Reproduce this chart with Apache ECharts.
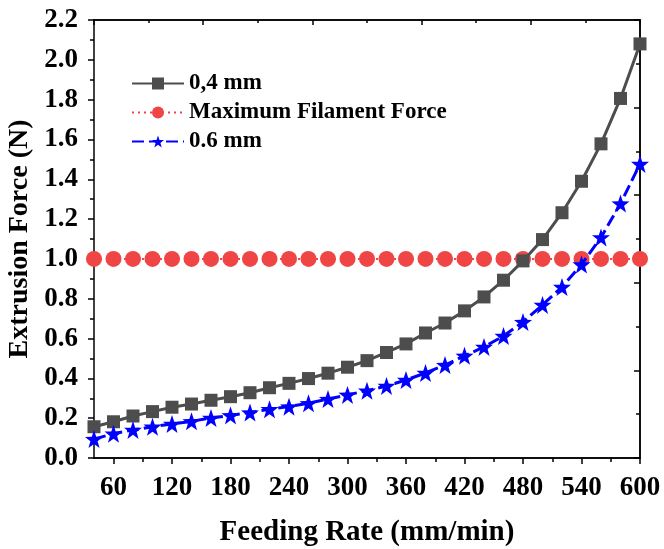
<!DOCTYPE html>
<html>
<head>
<meta charset="utf-8">
<script src="https://cdn.jsdelivr.net/npm/echarts@6/dist/echarts.min.js"></script>
</head>
<body style="margin:0">
<div id="main" style="width:664px;height:549px"></div>
<script>
// feeding rate (mm/min)
var feedRate = [40, 60, 80, 100, 120, 140, 160, 180, 200, 220, 240, 260, 280, 300, 320,
  340, 360, 380, 400, 420, 440, 460, 480, 500, 520, 540, 560, 580, 600];
var force04 = [0.157, 0.182, 0.211, 0.233, 0.255, 0.271, 0.290, 0.308, 0.328, 0.353, 0.375, 0.399, 0.426, 0.456, 0.489,
  0.530, 0.573, 0.628, 0.678, 0.739, 0.809, 0.893, 0.99, 1.097, 1.232, 1.39, 1.578, 1.806, 2.08];
var force06 = [0.095, 0.122, 0.141, 0.157, 0.171, 0.184, 0.201, 0.214, 0.228, 0.245, 0.258, 0.275, 0.296, 0.317, 0.338,
  0.362, 0.392, 0.427, 0.467, 0.513, 0.558, 0.613, 0.683, 0.769, 0.859, 0.972, 1.108, 1.278, 1.477];
var maxForce = feedRate.map(function () { return 1.0; });

var xLabelTicks = [60, 120, 180, 240, 300, 360, 420, 480, 540, 600];
var xMinorTicks = [90, 150, 210, 270, 330, 390, 450, 510, 570];
var topMajor = [40, 152, 264, 376, 488, 600];
var topMinor = [96, 208, 320, 432, 544];
var rightMajor = [0, 0.44, 0.88, 1.32, 1.76, 2.2];
var rightMinor = [0.22, 0.66, 1.1, 1.54, 1.98];

var font = 'Liberation Serif';
var black = '#000';

function pair(xs, ys) {
  return xs.map(function (x, i) { return [x, ys[i]]; });
}

// extra axes that only draw frame ticks
function tickAxis(pos, ticks, len, inside) {
  var isX = pos === 'top' || pos === 'bottom';
  return {
    type: 'value', position: pos, min: isX ? 40 : 0, max: isX ? 600 : 2.2,
    axisLine: { show: true, onZero: false, lineStyle: { color: black, width: 1.5 } },
    axisTick: { show: true, inside: inside, length: len, customValues: ticks, lineStyle: { color: black, width: 1.5 } },
    axisLabel: { show: false },
    splitLine: { show: false }
  };
}

var chart = echarts.init(document.getElementById('main'));
chart.setOption({
  backgroundColor: '#fff',
  animation: false,
  grid: { left: 94, right: 24, top: 20, bottom: 91, outerBoundsMode: 'none' },
  legend: {
    orient: 'vertical', left: 126, top: 67, itemGap: 6,
    itemWidth: 52, itemHeight: 15,
    textStyle: { fontFamily: font, fontWeight: 'bold', fontSize: 23, color: black },
    data: ['0,4 mm', 'Maximum Filament Force', '0.6 mm']
  },
  xAxis: [
    {
      type: 'value', position: 'bottom', min: 40, max: 600,
      name: 'Feeding Rate (mm/min)', nameLocation: 'middle', nameGap: 60,
      nameTextStyle: { fontFamily: font, fontWeight: 'bold', fontSize: 29, color: black },
      axisLine: { show: true, onZero: false, lineStyle: { color: black, width: 1.5 } },
      axisTick: { show: true, length: 6, customValues: xLabelTicks, lineStyle: { color: black, width: 1.5 } },
      axisLabel: { customValues: xLabelTicks, margin: 17, fontFamily: font, fontWeight: 'bold', fontSize: 27, color: black },
      splitLine: { show: false }
    },
    tickAxis('bottom', xMinorTicks, 4, false),
    tickAxis('top', topMajor, 5, true),
    tickAxis('top', topMinor, 3, true)
  ],
  yAxis: [
    {
      type: 'value', position: 'left', min: 0, max: 2.2, interval: 0.2,
      name: 'Extrusion Force (N)', nameLocation: 'middle', nameGap: 53,
      nameTextStyle: { fontFamily: font, fontWeight: 'bold', fontSize: 28, color: black },
      axisLine: { show: true, onZero: false, lineStyle: { color: black, width: 1.5 } },
      axisTick: { show: true, length: 6, lineStyle: { color: black, width: 1.5 } },
      minorTick: { show: true, splitNumber: 2, length: 4, lineStyle: { color: black, width: 1.5 } },
      axisLabel: {
        margin: 16, fontFamily: font, fontWeight: 'bold', fontSize: 27, color: black,
        formatter: function (v) { return v.toFixed(1); }
      },
      splitLine: { show: false }
    },
    tickAxis('right', rightMajor, 6, true),
    tickAxis('right', rightMinor, 4, true)
  ],
  series: [
    {
      name: '0,4 mm', type: 'line', data: pair(feedRate, force04),
      symbol: 'rect', symbolSize: 13, z: 3,
      itemStyle: { color: '#4d4d4d' },
      lineStyle: { color: '#4d4d4d', width: 3 }
    },
    {
      name: 'Maximum Filament Force', type: 'line', data: pair(feedRate, maxForce),
      symbol: 'circle', symbolSize: 16, z: 2,
      itemStyle: { color: '#f04545' },
      lineStyle: { color: '#f04545', width: 2, type: [2, 4] }
    },
    {
      name: '0.6 mm', type: 'line', data: pair(feedRate, force06),
      symbol: 'path://M0,-10L2.35,-3.24L9.51,-3.09L3.8,1.24L5.88,8.09L0,4L-5.88,8.09L-3.8,1.24L-9.51,-3.09L-2.35,-3.24Z',
      symbolSize: 18, z: 4,
      itemStyle: { color: '#0000ff' },
      lineStyle: { color: '#0000ff', width: 3, type: [12, 5] }
    }
  ]
});
</script>
</body>
</html>
